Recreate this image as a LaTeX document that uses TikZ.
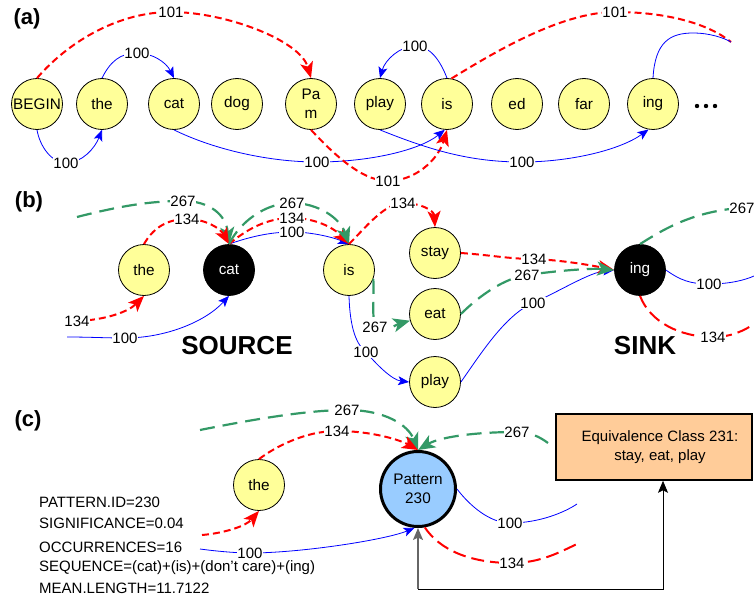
\documentclass[tikz,border=0pt]{standalone}
\usepackage{fontspec}
\setmainfont{Liberation Sans}
\usetikzlibrary{arrows.meta}
\definecolor{wy}{RGB}{255,255,153}
\definecolor{gr}{RGB}{51,153,102}
\definecolor{pb}{RGB}{153,204,255}
\definecolor{po}{RGB}{255,204,153}
\newcommand{\nodefont}{\fontsize{15.3}{19}\selectfont}
\newcommand{\labfont}{\fontsize{15}{17}\selectfont}
\tikzset{
  word/.style={circle, draw=black, line width=0.8pt, fill=wy, minimum size=51pt, inner sep=0pt, font=\nodefont, align=center},
  blk/.style={word, fill=black, text=white},
  lab/.style={fill=white, text=black, inner sep=0.6pt, font=\labfont},
  panel/.style={font=\fontsize{22}{26}\selectfont\bfseries},
  big/.style={font=\fontsize{26}{30}\selectfont\bfseries},
  info/.style={anchor=west, inner sep=0pt, font=\labfont},
  bl/.style={blue, line width=0.8pt},
  bla/.style={bl, -{Stealth[length=11pt,width=9pt,inset=2.5pt]}},
  rd/.style={red, line width=2pt, dash pattern=on 7pt off 4pt},
  rda/.style={rd, -{Stealth[length=16pt,width=13pt,inset=4pt]}},
  rl/.style={red, line width=2pt, dash pattern=on 13pt off 6pt},
  gn/.style={gr, line width=2.2pt, dash pattern=on 15pt off 8pt},
  gna/.style={gn, -{Stealth[length=17pt,width=14pt,inset=4.5pt]}},
  ka/.style={black, line width=0.8pt, -{Stealth[length=12pt,width=10pt,inset=2.5pt]}},
}
\begin{document}
\begin{tikzpicture}[x=1pt,y=-1pt]
\useasboundingbox (0,0) rectangle (754,599);

% ---------------- (a) ----------------
\node[panel] (pa) at (27,19) {(a)};
\node[word] (BEGIN) at (37,104) {BEGIN};
\node[word] (the1) at (102,104) {the};
\node[word] (cat1) at (174,104) {cat};
\node[word] (dog1) at (237,104) {dog};
\node[word] (Pam1) at (311,104) {Pa\\m};
\node[word] (play1) at (380,104) {play};
\node[word] (is1) at (447,104) {is};
\node[word] (ed1) at (517,104) {ed};
\node[word] (far1) at (584,104) {far};
\node[word] (ing1) at (653,104) {ing};
\fill (697,106) circle (2.2pt) (706,106) circle (2.2pt) (715,106) circle (2.2pt);
\coordinate (ae1) at (731,42);
\coordinate (ae2) at (731,42);

\draw[rda] (BEGIN.north) .. controls (70,40) and (120,12) .. (171,12) node[lab]{101}
  .. controls (225,12) and (300,40) .. (Pam1.north);
\draw[bla] (the1.north) .. controls (110,62) and (120,53) .. (137,53) node[lab]{100}
  .. controls (152,53) and (166,62) .. (cat1.north);
\draw[bla] (BEGIN.south) .. controls (40,147) and (52,163) .. (66,163) node[lab]{100}
  .. controls (82,163) and (95,148) .. (the1.south);
\draw[bla] (cat1.south) .. controls (215,150) and (270,162) .. (317,162) node[lab]{100}
  .. controls (370,162) and (420,150) .. (is1.-95);
\draw[rda] (Pam1.south) .. controls (330,150) and (360,181) .. (388,181) node[lab]{101}
  .. controls (415,181) and (438,160) .. (is1.south);
\draw[bla] (is1.north) .. controls (440,60) and (430,46) .. (415,46) node[lab]{100}
  .. controls (400,46) and (385,60) .. (play1.north);
\draw[rd] (is1.80) .. controls (490,55) and (560,12) .. (615,12) node[lab]{101}
  .. controls (670,12) and (710,25) .. (ae1);
\draw[bl] (ing1.north) .. controls (655,42) and (670,33) .. (693,33)
  .. controls (710,33) and (724,38) .. (ae2);
\draw[bla] (play1.south) .. controls (430,150) and (470,162) .. (522,162) node[lab]{100}
  .. controls (570,162) and (620,150) .. (ing1.-100);

% ---------------- (b) ----------------
\node[panel] (pb) at (29,202) {(b)};
\node[word] (the2) at (144,270) {the};
\node[blk] (cat2) at (229,270) {cat};
\node[word] (is2) at (349,270) {is};
\node[word] (stay2) at (435,253) {stay};
\node[word] (eat2) at (435,314) {eat};
\node[word] (play2) at (435,382) {play};
\node[blk] (ing2) at (640,270) {ing};
\node[big] (src) at (237,346) {SOURCE};
\node[big] (snk) at (645,346) {SINK};
\coordinate (b1s) at (77,217);
\coordinate (b3s) at (77,321);
\coordinate (b4s) at (67,337);
\coordinate (b14e) at (754,207);
\coordinate (b15e) at (754,276);
\coordinate (b16e) at (754,324);

\draw[gna] (b1s) .. controls (120,206) and (150,201) .. (183,201) node[lab]{267}
  .. controls (210,201) and (226,215) .. (cat2.north);
\draw[rda] (the2.north) .. controls (152,230) and (165,219) .. (187,219) node[lab]{134}
  .. controls (205,219) and (220,228) .. (cat2.north);
\draw[rda] (b3s) .. controls (105,320) and (128,312) .. (the2.south);
\node[lab] (b3l) at (b3s) {134};
\draw[bla] (b4s) .. controls (90,337) and (105,338) .. (125,338) node[lab]{100}
  .. controls (165,338) and (205,322) .. (cat2.south);
\draw[bla] (cat2.north) .. controls (252,236) and (272,232) .. (292,232) node[lab]{100}
  .. controls (313,232) and (335,238) .. (is2.north);
\draw[rda] (cat2.north) .. controls (246,230) and (266,218) .. (292,218) node[lab]{134}
  .. controls (318,218) and (336,230) .. (is2.north);
\draw[gna] (cat2.north) .. controls (240,222) and (265,203) .. (292,203) node[lab]{267}
  .. controls (318,203) and (340,218) .. (is2.north);
\draw[rda] (is2.north) .. controls (365,228) and (385,203) .. (403,203) node[lab]{134}
  .. controls (420,203) and (434,210) .. (stay2.north);
\draw[gna] (is2.-20) .. controls (374,300) and (372,318) .. (375,327) node[lab]{267}
  .. controls (378,336) and (398,324) .. (eat2.195);
\draw[bla] (is2.south) .. controls (350,330) and (357,345) .. (366,352) node[lab]{100}
  .. controls (376,364) and (392,380) .. (play2.west);
\draw[bla] (play2.east) .. controls (480,355) and (505,315) .. (533,303) node[lab]{100}
  .. controls (560,291) and (590,272) .. (ing2.west);
\draw[rda] (stay2.east) .. controls (490,255) and (510,259) .. (534,259) node[lab]{134}
  .. controls (560,260) and (590,265) .. (ing2.west);
\draw[gna] (eat2.east) .. controls (480,295) and (505,278) .. (527,275) node[lab]{267}
  .. controls (555,271) and (590,268) .. (ing2.west);
\draw[gn] (ing2.north) .. controls (670,225) and (700,209) .. (b14e);
\node[lab] (b14l) at (742,208) {267};
\draw[bl] (ing2.east) .. controls (680,280) and (690,284) .. (709,284) node[lab]{100}
  .. controls (730,284) and (745,280) .. (b15e);
\draw[rl] (ing2.south) .. controls (650,322) and (680,337) .. (713,337) node[lab]{134}
  .. controls (732,337) and (745,330) .. (b16e);

% ---------------- (c) ----------------
\node[panel] (pc) at (28,421) {(c)};
\node[word] (the3) at (259,485) {the};
\node[circle, draw=black, line width=3pt, fill=pb, minimum size=75pt, inner sep=0pt, font=\nodefont, align=center] (P) at (418,489) {Pattern\\230};
\node[draw=black, line width=1.6pt, fill=po, minimum width=196pt, minimum height=66pt] (box) at (654,447) {};
\node[font=\labfont, align=center, inner sep=0pt] (boxt) at (660,447) {Equivalence Class 231:\\[2pt]stay, eat, play};
\node[info] (t1) at (39,502) {PATTERN.ID=230};
\node[info] (t2) at (39,523) {SIGNIFICANCE=0.04};
\node[info] (t3) at (39,547) {OCCURRENCES=16};
\node[info] (t4) at (39,568) {SEQUENCE=(cat)+(is)+(don't care)+(ing)};
\node[info] (t5) at (39,588) {MEAN.LENGTH=11.7122};
\coordinate (c1s) at (200,430);
\coordinate (c3s) at (202,535);
\coordinate (c4s) at (200,549);
\coordinate (c5s) at (548,443);
\coordinate (c6e) at (577,504);
\coordinate (c7e) at (577,544);
\coordinate (cl) at (418,589);
\coordinate (cr) at (663,589);

\draw[gna] (c1s) .. controls (260,418) and (310,410) .. (347,410) node[lab]{267}
  .. controls (385,410) and (408,425) .. (P.north);
\draw[rda] (the3.north) .. controls (275,447) and (305,431) .. (337,431) node[lab]{134}
  .. controls (372,431) and (400,440) .. (P.north);
\draw[rda] (c3s) .. controls (225,533) and (246,526) .. (the3.south);
\draw[bla] (c4s) .. controls (215,551) and (235,553) .. (250,553) node[lab]{100}
  .. controls (300,553) and (385,540) .. (P.-95);
\draw[gna] (c5s) .. controls (540,437) and (530,432) .. (517,432) node[lab]{267}
  .. controls (470,432) and (438,438) .. (P.north);
\draw[bl] (P.east) .. controls (470,506) and (490,523) .. (510,523) node[lab]{100}
  .. controls (540,523) and (565,512) .. (c6e);
\draw[rl] (P.-80) .. controls (440,550) and (470,563) .. (512,563) node[lab]{134}
  .. controls (540,563) and (560,552) .. (c7e);
\draw[ka] (cl) -- (cr) -- (box.south -| cr);
\draw[ka, gray!80!black, line width=1.8pt] (cl) -- (P.south);
\end{tikzpicture}
\end{document}
